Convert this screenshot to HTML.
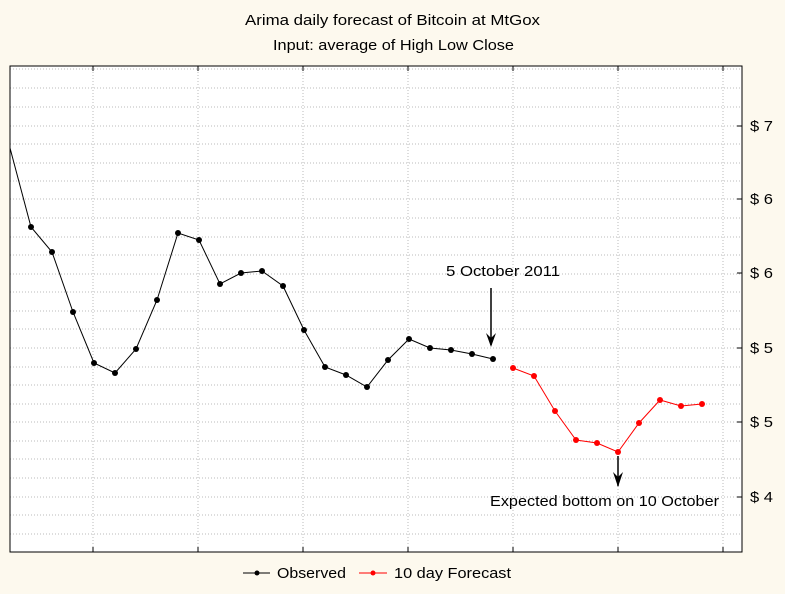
<!DOCTYPE html>
<html><head><style>body{margin:0;background:#fdf9ee}</style></head><body>
<svg width="785" height="589" xmlns="http://www.w3.org/2000/svg" font-family="Liberation Sans, sans-serif">
<rect width="785" height="589" fill="#fdf9ee"/>
<rect x="10" y="66" width="732" height="486" fill="#fff"/>
<g stroke="#bbb" stroke-dasharray="1,2" stroke-width="1">
<path d="M10 69H742M10 88H742M10 107H742M10 126H742M10 144H742M10 163H742M10 181H742M10 199H742M10 218H742M10 237H742M10 255H742M10 274H742M10 292H742M10 311H742M10 329H742M10 348H742M10 367H742M10 385H742M10 404H742M10 422H742M10 441H742M10 459H742M10 478H742M10 497H742M10 515H742M10 534H742"/>
<path d="M93 66V552M198 66V552M303 66V552M408 66V552M513 66V552M618 66V552M723 66V552"/>
</g>
<rect x="10" y="66" width="732" height="486" fill="none" stroke="#000"/>
<g stroke="#000"><path d="M93 66v5M198 66v5M303 66v5M408 66v5M513 66v5M618 66v5M723 66v5M93 552v-5M198 552v-5M303 552v-5M408 552v-5M513 552v-5M618 552v-5M723 552v-5M742 126h-5M742 199h-5M742 273h-5M742 348h-5M742 422h-5M742 497h-5"/></g>
<g font-size="15" fill="#000" lengthAdjust="spacingAndGlyphs">
<text x="750" y="131" textLength="23" lengthAdjust="spacingAndGlyphs">$ 7</text><text x="750" y="204" textLength="23" lengthAdjust="spacingAndGlyphs">$ 6</text><text x="750" y="278" textLength="23" lengthAdjust="spacingAndGlyphs">$ 6</text><text x="750" y="353" textLength="23" lengthAdjust="spacingAndGlyphs">$ 5</text><text x="750" y="427" textLength="23" lengthAdjust="spacingAndGlyphs">$ 5</text><text x="750" y="502" textLength="23" lengthAdjust="spacingAndGlyphs">$ 4</text>
<text x="245" y="25" textLength="295" lengthAdjust="spacingAndGlyphs">Arima daily forecast of Bitcoin at MtGox</text>
<text x="273" y="50" textLength="241" lengthAdjust="spacingAndGlyphs">Input: average of High Low Close</text>
<text x="446" y="276" textLength="114" lengthAdjust="spacingAndGlyphs">5 October 2011</text>
<text x="490" y="506" textLength="229" lengthAdjust="spacingAndGlyphs">Expected bottom on 10 October</text>
<text x="277" y="578" textLength="69" lengthAdjust="spacingAndGlyphs">Observed</text>
<text x="394" y="578" textLength="117" lengthAdjust="spacingAndGlyphs">10 day Forecast</text>
</g>
<polyline fill="none" stroke="#000" points="10,148 31,227 52,252 73,312 94,363 115,373 136,349 157,300 178,233 199,240 220,284 241,273 262,271 283,286 304,330 325,367 346,375 367,387 388,360 409,339 430,348 451,350 472,354 493,359"/>
<g fill="#000"><circle cx="31" cy="227" r="3"/><circle cx="52" cy="252" r="3"/><circle cx="73" cy="312" r="3"/><circle cx="94" cy="363" r="3"/><circle cx="115" cy="373" r="3"/><circle cx="136" cy="349" r="3"/><circle cx="157" cy="300" r="3"/><circle cx="178" cy="233" r="3"/><circle cx="199" cy="240" r="3"/><circle cx="220" cy="284" r="3"/><circle cx="241" cy="273" r="3"/><circle cx="262" cy="271" r="3"/><circle cx="283" cy="286" r="3"/><circle cx="304" cy="330" r="3"/><circle cx="325" cy="367" r="3"/><circle cx="346" cy="375" r="3"/><circle cx="367" cy="387" r="3"/><circle cx="388" cy="360" r="3"/><circle cx="409" cy="339" r="3"/><circle cx="430" cy="348" r="3"/><circle cx="451" cy="350" r="3"/><circle cx="472" cy="354" r="3"/><circle cx="493" cy="359" r="3"/></g>
<polyline fill="none" stroke="#f00" points="513,368 534,376 555,411 576,440 597,443 618,452 639,423 660,400 681,406 702,404"/>
<g fill="#f00"><circle cx="513" cy="368" r="3"/><circle cx="534" cy="376" r="3"/><circle cx="555" cy="411" r="3"/><circle cx="576" cy="440" r="3"/><circle cx="597" cy="443" r="3"/><circle cx="618" cy="452" r="3"/><circle cx="639" cy="423" r="3"/><circle cx="660" cy="400" r="3"/><circle cx="681" cy="406" r="3"/><circle cx="702" cy="404" r="3"/></g>
<g stroke="#000" stroke-width="1.5"><path d="M491 288V345M618 456V486"/></g>
<path d="M486 333L491 347L496 333L491 338Z" fill="#000"/>
<path d="M613 472L618 487L623 472L618 477Z" fill="#000"/>
<path d="M243 573H270" stroke="#000"/><circle cx="257" cy="573" r="2.5" fill="#000"/>
<path d="M359 573H387" stroke="#f00"/><circle cx="373" cy="573" r="2.5" fill="#f00"/>
</svg>
</body></html>
